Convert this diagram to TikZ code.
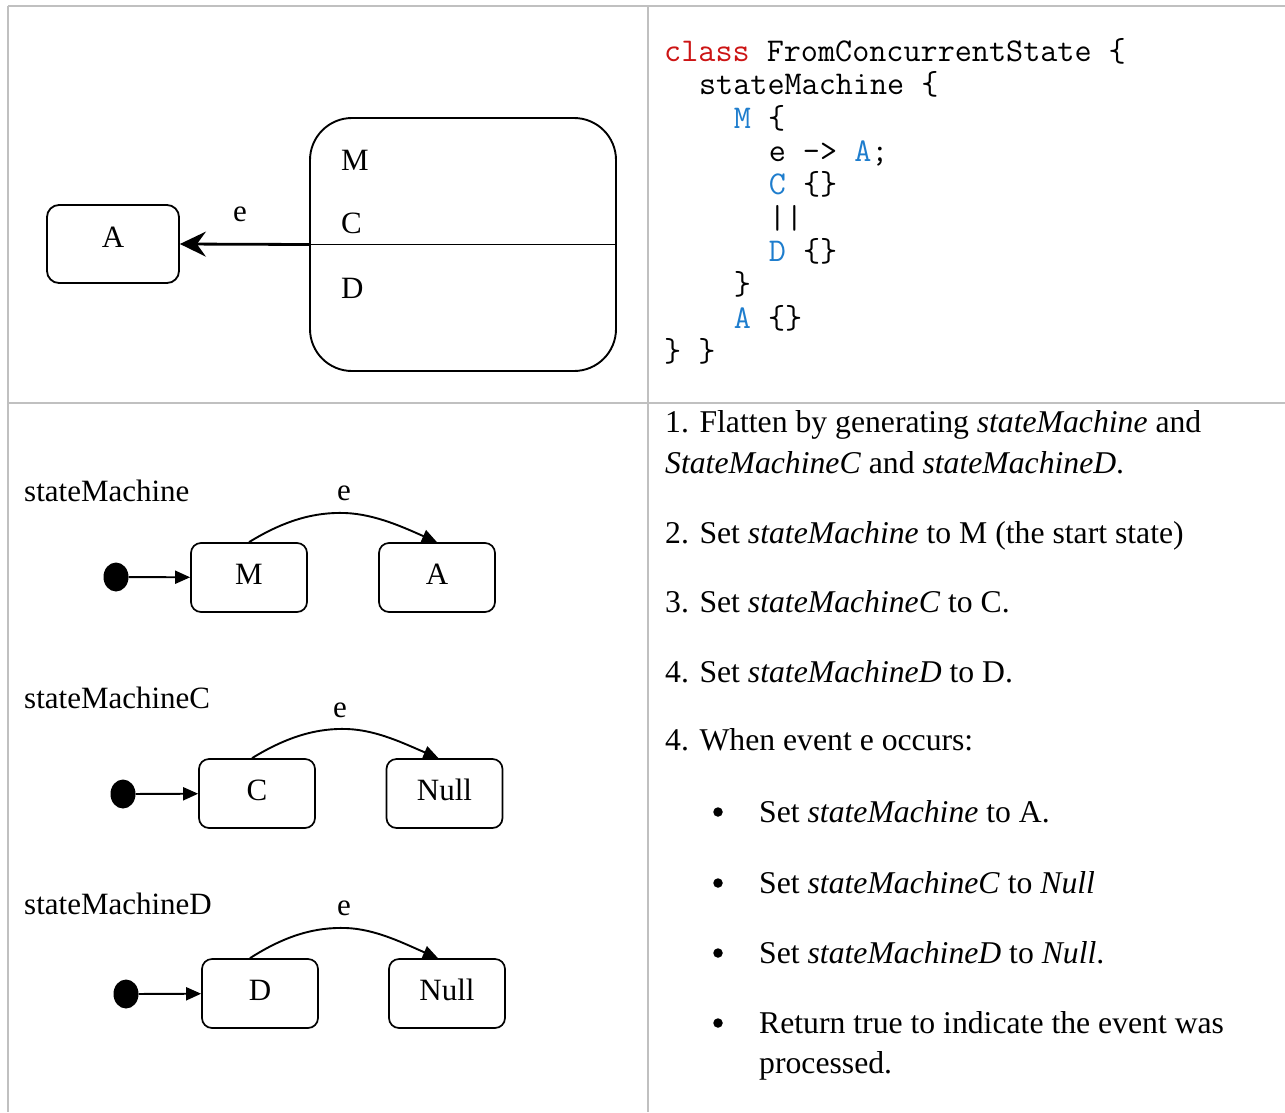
\documentclass[tikz,border=0pt]{standalone}
\usepackage{fontspec}
\setmainfont{Liberation Serif}
\usetikzlibrary{arrows.meta,shapes.geometric}
\definecolor{kwred}{RGB}{204,20,20}
\definecolor{idblue}{RGB}{30,125,205}
\definecolor{gridgray}{RGB}{192,192,192}
\begin{document}
\begin{tikzpicture}[x=1pt,y=-1pt,
  grid/.style={draw=gridgray, line width=2pt},
  state/.style={draw, line width=1.7pt, rounded corners=10pt, minimum width=116pt, minimum height=69pt, inner sep=0pt, text depth=7pt, font=\fontsize{31}{36}\selectfont},
  dlbl/.style={anchor=base west, inner sep=0pt, font=\fontsize{31}{36}\selectfont},
  elbl/.style={anchor=base, inner sep=0pt, font=\fontsize{31}{36}\selectfont},
  txt/.style={anchor=base west, inner sep=0pt, font=\fontsize{31.7}{40}\selectfont},
  bul/.style={circle, fill=black, minimum size=9.5pt, inner sep=0pt},
  code/.style={anchor=base west, inner sep=0pt, font=\ttfamily\fontsize{33.2}{33}\selectfont},
  initdot/.style={ellipse, fill=black, minimum width=25pt, minimum height=29pt, inner sep=0pt},
  tr/.style={line width=1.9pt, -{Triangle[length=15pt,width=13pt]}},
  bigarrow/.style={line width=2.8pt, -{Stealth[length=26pt,width=25pt,inset=9pt]}}
]
\useasboundingbox (0,0) rectangle (1285,1112);
% table grid
\draw[grid] (8,6) -- (1285,6);
\draw[grid] (8,403) -- (1285,403);
\draw[grid] (8,6) -- (8,1112);
\draw[grid] (648,6) -- (648,1112);

% ---- top-left diagram
\node[draw, line width=1.8pt, rounded corners=12pt, minimum width=132pt, minimum height=78pt, inner sep=0pt, text depth=14pt, font=\fontsize{31}{36}\selectfont] (A0) at (113,244) {A};
\node[draw, line width=1.9pt, rounded corners=42pt, minimum width=306pt, minimum height=253pt, inner sep=0pt] (Mbox) at (463,244.5) {};
\draw[line width=1.8pt] (Mbox.west) -- (Mbox.east);
\draw[bigarrow] (Mbox.west) -- (A0.east);
\node[elbl] (e0) at (240,221) {e};
\node[dlbl] (lM) at (341,170) {M};
\node[dlbl] (lC) at (341,233) {C};
\node[dlbl] (lD) at (341,298) {D};

% ---- code
\node[code] (c1) at (664,61) {\textcolor{kwred}{class} FromConcurrentState \{};
\node[code] (c2) at (698.9,94.5) {stateMachine \{};
\node[code] (c3) at (733.7,128) {\textcolor{idblue}{M} \{};
\node[code] (c4) at (768.6,161) {e -> \textcolor{idblue}{A};};
\node[code] (c5) at (768.6,194.5) {\textcolor{idblue}{C} \{\}};
\node[code] (c6) at (768.6,228) {||};
\node[code] (c7) at (768.6,261) {\textcolor{idblue}{D} \{\}};
\node[code] (c8) at (733.7,294.5) {\}};
\node[code] (c9) at (733.7,328) {\textcolor{idblue}{A} \{\}};
\node[code] (c10) at (664,361) {\} \}};

% ---- bottom-left diagrams
\node[dlbl] (t1) at (24,501) {stateMachine};
\node[initdot] (i1) at (116,577) {};
\node[state] (M1) at (249,577.5) {M};
\node[state] (A1) at (437,577.5) {A};
\draw[tr] (i1) -- (M1);
\coordinate (p1) at (345,513);
\draw[line width=1.9pt] (M1.north) .. controls (285,520) and (315,512) .. (p1);
\draw[tr] (p1) .. controls (375,514) and (405,528) .. (A1.north);
\node[elbl] (e1) at (344,500) {e};

\node[dlbl] (t2) at (24,708) {stateMachineC};
\node[initdot] (i2) at (123,794) {};
\node[state] (C2) at (257,793.5) {C};
\node[state] (N2) at (444.5,793.5) {Null};
\draw[tr] (i2) -- (C2);
\coordinate (p2) at (347,729);
\draw[line width=1.9pt] ([xshift=-5pt]C2.north) .. controls (288,736) and (318,728) .. (p2);
\draw[tr] (p2) .. controls (377,730) and (405,744) .. ([xshift=-6pt]N2.north);
\node[elbl] (e2) at (340,717) {e};

\node[dlbl] (t3) at (24,914) {stateMachineD};
\node[initdot] (i3) at (126,994) {};
\node[state] (D3) at (260,993.5) {D};
\node[state] (N3) at (447,993.5) {Null};
\draw[tr] (i3) -- (D3);
\coordinate (p3) at (346,928);
\draw[line width=1.9pt] ([xshift=-10pt]D3.north) .. controls (286,935) and (316,927) .. (p3);
\draw[tr] (p3) .. controls (376,929) and (405,944) .. ([xshift=-9pt]N3.north);
\node[elbl] (e3) at (344,915) {e};

% ---- right text
\node[txt] (s1) at (665,432) {1. Flatten by generating \textit{stateMachine} and};
\node[txt] (s1b) at (665,473) {\textit{StateMachineC} and \textit{stateMachineD}.};
\node[txt] (s2) at (665,543) {2. Set \textit{stateMachine} to M (the start state)};
\node[txt] (s3) at (665,612) {3. Set \textit{stateMachineC} to C.};
\node[txt] (s4) at (665,682) {4. Set \textit{stateMachineD} to D.};
\node[txt] (s5) at (665,750) {4. When event e occurs:};
\node[bul] (b1) at (718,812) {};
\node[txt] (s6) at (759,822) {Set \textit{stateMachine} to A.};
\node[bul] (b2) at (718,883) {};
\node[txt] (s7) at (759,893) {Set \textit{stateMachineC} to \textit{Null}};
\node[bul] (b3) at (718,953) {};
\node[txt] (s8) at (759,963) {Set \textit{stateMachineD} to \textit{Null}.};
\node[bul] (b4) at (718,1023) {};
\node[txt] (s9) at (759,1033) {Return true to indicate the event was};
\node[txt] (s9b) at (759,1073) {processed.};
\end{tikzpicture}
\end{document}
